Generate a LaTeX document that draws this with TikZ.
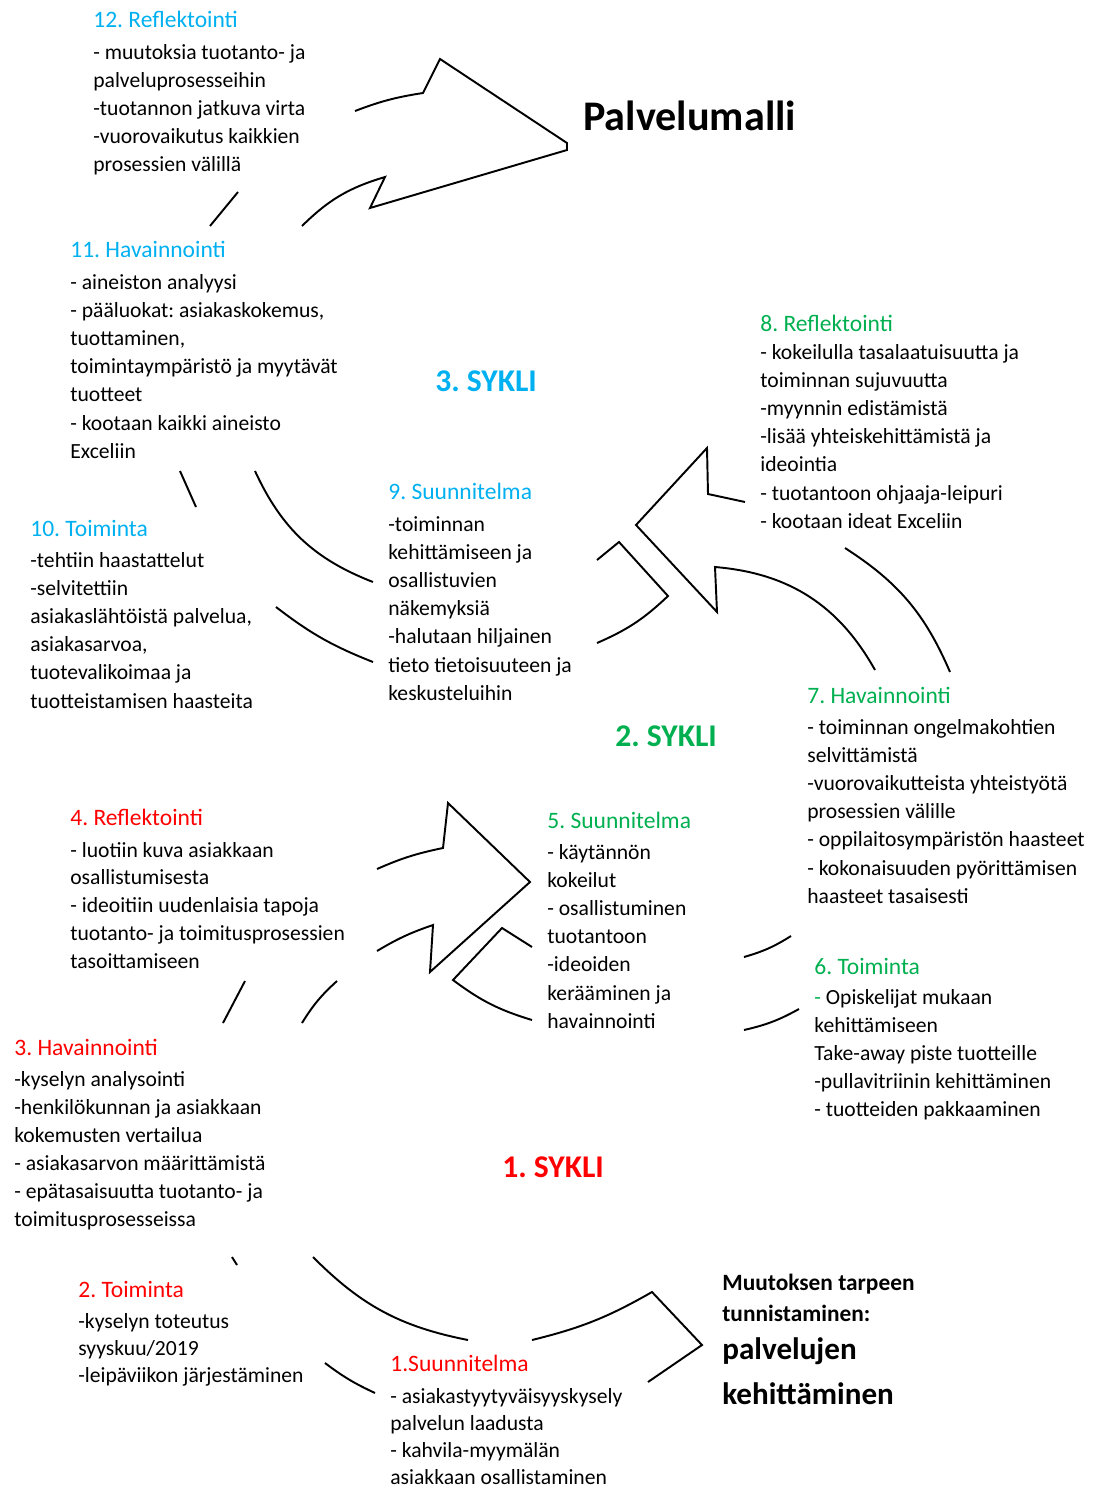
\documentclass[tikz,border=0pt]{standalone}
\usepackage{fontspec}
\setmainfont{Carlito}
\frenchspacing
\definecolor{sininen}{HTML}{00B0F0}
\definecolor{vihrea}{HTML}{00B050}
\definecolor{punainen}{HTML}{FF0000}

\begin{document}
\begin{tikzpicture}[x=0.02cm,y=-0.02cm,
    otsikko/.style={anchor=base west,inner sep=0pt,font=\fontsize{13.4}{16}\selectfont},
    rivi/.style={anchor=base west,inner sep=0pt,font=\fontsize{12.3}{15}\selectfont},
    sykli/.style={anchor=base west,inner sep=0pt,font=\bfseries\fontsize{18}{22}\selectfont},
    kaari/.style={line width=1.1pt,line join=miter}]
        \useasboundingbox (0,0) rectangle (1098,1488);
        % 3. sykli
        \node[otsikko,sininen] (ref12) at (93,27) {12. Reflektointi};
        \foreach \teksti [count=\i from 0] in {- muutoksia tuotanto- ja,palveluprosesseihin,-tuotannon jatkuva virta,-vuorovaikutus kaikkien,prosessien välillä}
          \node[rivi] (ref12-\i) at (93,59+28.2*\i) {\teksti};
        \node[otsikko,sininen] (hav11) at (70,257) {11. Havainnointi};
        \foreach \teksti [count=\i from 0] in {- aineiston analyysi,{- pääluokat: asiakaskokemus,},{tuottaminen,},toimintaympäristö ja myytävät,tuotteet,- kootaan kaikki aineisto,Exceliin}
          \node[rivi] (hav11-\i) at (70,289+28.2*\i) {\teksti};
        \node[otsikko,sininen] (toi10) at (30,536) {10. Toiminta};
        \foreach \teksti [count=\i from 0] in {-tehtiin haastattelut,-selvitettiin,{asiakaslähtöistä palvelua,},{asiakasarvoa,},tuotevalikoimaa ja,tuotteistamisen haasteita}
          \node[rivi] (toi10-\i) at (30,567+28.2*\i) {\teksti};
        \node[otsikko,sininen] (suu9) at (388,499) {9. Suunnitelma};
        \foreach \teksti [count=\i from 0] in {-toiminnan,kehittämiseen ja,osallistuvien,näkemyksiä,-halutaan hiljainen,tieto tietoisuuteen ja,keskusteluihin}
          \node[rivi] (suu9-\i) at (388,531+28.2*\i) {\teksti};
        \node[sykli,sininen] (sykli3) at (435,391) {3. SYKLI};
        \node[anchor=base west,inner sep=0pt,font=\bfseries\fontsize{24}{28}\selectfont] (malli) at (583,130) {Palvelumalli};

        % 2. sykli
        \node[otsikko,vihrea] (ref8) at (760,331) {8. Reflektointi};
        \foreach \teksti [count=\i from 0] in {- kokeilulla tasalaatuisuutta ja,toiminnan sujuvuutta,-myynnin edistämistä,-lisää yhteiskehittämistä ja,ideointia,- tuotantoon ohjaaja-leipuri,- kootaan ideat Exceliin}
          \node[rivi] (ref8-\i) at (760,359+28.2*\i) {\teksti};
        \node[otsikko,vihrea] (hav7) at (807,703) {7. Havainnointi};
        \foreach \teksti [count=\i from 0] in {- toiminnan ongelmakohtien,selvittämistä,-vuorovaikutteista yhteistyötä,prosessien välille,- oppilaitosympäristön haasteet,- kokonaisuuden pyörittämisen,haasteet tasaisesti}
          \node[rivi] (hav7-\i) at (807,734+28.2*\i) {\teksti};
        \node[otsikko,vihrea] (suu5) at (547,828) {5. Suunnitelma};
        \foreach \teksti [count=\i from 0] in {- käytännön,kokeilut,- osallistuminen,tuotantoon,-ideoiden,kerääminen ja,havainnointi}
          \node[rivi] (suu5-\i) at (547,859+28.2*\i) {\teksti};
        \node[otsikko,vihrea] (toi6) at (814,974) {6. Toiminta};
        \foreach \teksti [count=\i from 0] in {{{\color{vihrea}-} Opiskelijat mukaan},kehittämiseen,Take-away piste tuotteille,-pullavitriinin kehittäminen,- tuotteiden pakkaaminen}
          \node[rivi] (toi6-\i) at (814,1004+28.2*\i) {\teksti};
        \node[sykli,vihrea] (sykli2) at (615,746) {2. SYKLI};

        % 1. sykli
        \node[otsikko,punainen] (ref4) at (70,825) {4. Reflektointi};
        \foreach \teksti [count=\i from 0] in {- luotiin kuva asiakkaan,osallistumisesta,- ideoitiin uudenlaisia tapoja,tuotanto- ja toimitusprosessien,tasoittamiseen}
          \node[rivi] (ref4-\i) at (70,857+27.8*\i) {\teksti};
        \node[otsikko,punainen] (hav3) at (14,1055) {3. Havainnointi};
        \foreach \teksti [count=\i from 0] in {-kyselyn analysointi,-henkilökunnan ja asiakkaan,kokemusten vertailua,- asiakasarvon määrittämistä,- epätasaisuutta tuotanto- ja,toimitusprosesseissa}
          \node[rivi] (hav3-\i) at (14,1086+28*\i) {\teksti};
        \node[otsikko,punainen] (toi2) at (78,1297) {2. Toiminta};
        \foreach \teksti [count=\i from 0] in {-kyselyn toteutus,syyskuu/2019,-leipäviikon järjestäminen}
          \node[rivi] (toi2-\i) at (78,1328+27.3*\i) {\teksti};
        \node[otsikko,punainen] (suu1) at (390,1371) {1.Suunnitelma};
        \foreach \teksti [count=\i from 0] in {- asiakastyytyväisyyskysely,palvelun laadusta,- kahvila-myymälän,asiakkaan osallistaminen}
          \node[rivi] (suu1-\i) at (390,1403+27.3*\i) {\teksti};
        \node[sykli,punainen] (sykli1) at (502,1177) {1. SYKLI};
        \node[anchor=base west,inner sep=0pt,font=\bfseries\fontsize{13.3}{16}\selectfont] (tarve1) at (722,1290) {Muutoksen tarpeen};
        \node[anchor=base west,inner sep=0pt,font=\bfseries\fontsize{13.3}{16}\selectfont] (tarve2) at (722,1321) {tunnistaminen:};
        \node[anchor=base west,inner sep=0pt,font=\bfseries\fontsize{17.7}{21}\selectfont] (tarve3) at (722,1359) {palvelujen};
        \node[anchor=base west,inner sep=0pt,font=\bfseries\fontsize{17.7}{21}\selectfont] (tarve4) at (722,1404) {kehittäminen};

        % kaarinuolet, 3. sykli
        \draw[kaari] (355,111) to[bend left=6] (423,93) -- (440,59) -- (567,143) -- (567,150) -- (370,208) -- (385,177) to[bend right=14] (302,226);
        \draw[kaari] (238,192) -- (210,226);
        \draw[kaari] (180,471) -- (196,507);
        \draw[kaari] (255,471) to[bend right=22] (373,582);
        \draw[kaari] (276,607) to[bend right=8] (373,662);
        \draw[kaari] (597,560) -- (619,542) -- (668,596) to[bend left=10] (597,643);
        % kaarinuolet, 2. sykli
        \draw[kaari] (745,502) -- (708,494) -- (707,448) -- (636,525) -- (717,612) -- (715,567) to[bend left=28] (875,670);
        \draw[kaari] (845,548) to[bend left=17] (950,672);
        \draw[kaari] (744,957) to[bend right=8] (791,936);
        \draw[kaari] (744,1030) to[bend right=8] (799,1009);
        % kaarinuolet, 1. sykli
        \draw[kaari] (377,869) to[bend left=6] (443,848) -- (448,803) -- (530,882) -- (430,972) -- (433,925) to[bend right=6] (377,951);
        \draw[kaari] (245,981) -- (223,1023);
        \draw[kaari] (337,981) to[bend right=8] (302,1023);
        \draw[kaari] (532,947) -- (502,928) -- (453,980) to[bend right=10] (532,1020);
        \draw[kaari] (232,1257) -- (237,1265);
        \draw[kaari] (313,1257) to[bend right=17] (468,1340);
        \draw[kaari] (325,1363) to[bend right=6] (375,1393);
        \draw[kaari] (532,1340) to[bend right=8] (652,1292) -- (702,1345) -- (648,1382);
      \end{tikzpicture}
\end{document}
